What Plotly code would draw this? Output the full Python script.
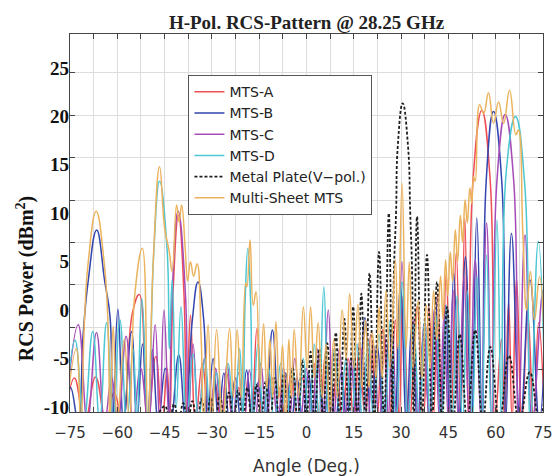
import plotly.graph_objects as go

# ---- angle (deg) / RCS (dBm^2) samples: lobe peaks, flanks and nulls ----
mts_a_deg = [-76.5, -73.6, -70.3, -66.9, -63.6, -61.0, -58.4, -55.2, -53.0, -50.4, -47.8, -45.8, -44.2, -43.4,
             -42.3, -40.6, -38.9, -38.0, -36.8, -35.2, -33.0, -31.0, -29.0, -27.2, -25.3, -23.4, -21.5, -19.8,
             -18.6, -17.4, -15.7, -13.9, -12.0, -10.2, -8.4, -6.6, -4.8, -3.0, -1.2, 0.6, 2.4, 4.2, 6.0, 7.8,
             9.6, 11.4, 13.2, 15.0, 16.8, 18.6, 20.4, 22.3, 24.2, 26.2, 28.2, 29.4, 30.6, 32.6, 35.1, 37.0,
             38.8, 40.2, 41.6, 42.9, 44.3, 45.8, 47.5, 48.9, 50.2, 51.4, 52.8, 55.6, 58.25, 59.8, 61.8, 62.8,
             64.1, 65.2, 66.6, 68.3, 70.2, 72.0, 73.6, 75.5]
mts_a_db = [-11.5, -7.0, -11.5, -6.9, -11.5, -8.5, -11.5, -0.3, 1.6, -11.5, -4.8, -11.5, -6.0, -11.5,
            2.0, 9.8, 2.0, -11.5, -0.5, -11.5, -5.5, -11.5, -7.5, -11.5, -6.5, -11.5, -8.0, -11.5,
            -7.0, -11.5, -1.9, -11.5, -7.0, -11.5, -8.0, -11.5, -6.0, -11.5, -7.0, -11.5, -5.5, -11.5, -4.5, -11.5,
            -6.5, -11.5, -5.0, -11.5, -3.5, -11.5, -2.5, -11.5, -2.0, -11.5, -1.0, -11.5, 1.4, -11.5, 0.35, -11.5,
            0.35, -11.5, 1.7, -11.5, 3.8, -11.5, 6.0, -11.5, 9.5, -11.5, 13.4, 20.6, 13.4, -11.5, -3.0, -11.5,
            0.9, -11.5, 3.3, -11.5, -0.5, -11.5, -1.3, -11.5]

mts_b_deg = [-76.5, -74.8, -72.4, -70.8, -69.2, -66.55, -64.0, -62.3, -61.5, -59.8, -58.0, -55.5, -53.8, -52.0,
             -50.4, -48.9, -47.0, -44.8, -43.0, -40.5, -38.4, -36.2, -34.4, -32.6, -31.4, -29.6, -27.9, -26.2,
             -24.4, -22.6, -20.8, -19.0, -17.2, -15.4, -13.2, -10.8, -8.6, -6.6, -4.8, -3.0, -1.2, 0.6, 2.3,
             4.0, 5.6, 7.4, 9.2, 11.0, 12.8, 14.6, 16.4, 18.5, 20.5, 22.4, 24.4, 26.3, 28.0, 29.8, 31.7, 33.4,
             35.2, 37.2, 39.0, 40.9, 42.6, 44.2, 45.3, 46.7, 48.5, 50.4, 52.3, 54.0, 55.7, 57.0, 59.3, 61.9,
             63.2, 65.0, 67.8, 70.9, 73.8, 75.8]
mts_b_db = [-11.5, -8.0, -11.5, -2.4, 3.1, 8.27, 3.0, -0.7, -11.5, 0.1, -11.5, -2.2, -11.5, -3.5,
            -11.5, -4.1, -11.5, -6.0, -11.5, -4.6, -11.5, -1.0, 2.9, -1.0, -11.5, -5.0, -11.5, -6.5,
            -11.5, -7.0, -11.5, -6.2, -11.5, -7.5, -11.5, -2.05, -11.5, -6.5, -11.5, -7.0, -11.5, -6.5, -11.5,
            -4.5, -11.5, -5.5, -11.5, -6.5, -11.5, -5.0, -11.5, -0.8, -11.5, -3.5, -11.5, -2.0, -11.5, 2.4, -11.5, -1.5,
            -11.5, -2.5, -11.5, 1.05, -11.5, 0.5, -11.5, 3.8, -11.5, 5.5, -11.5, 9.5, -11.5, 13.4, 20.5, 13.4,
            -11.5, 7.9, -11.5, 3.1, -11.5, -2.0]

mts_c_deg = [-76.5, -72.4, -69.5, -66.6, -64.0, -61.8, -59.8, -57.2, -55.0, -52.6, -50.2, -48.0, -46.6, -45.2,
             -43.6, -42.6, -40.7, -38.4, -37.5, -36.0, -34.2, -32.4, -30.6, -28.8, -27.0, -25.2, -23.4, -21.6,
             -19.8, -18.1, -16.3, -14.5, -12.7, -10.9, -9.1, -7.3, -5.5, -3.7, -1.9, -0.1, 1.7, 3.4, 5.1, 6.9,
             8.6, 10.4, 12.2, 14.0, 15.8, 17.6, 19.4, 21.2, 23.0, 24.8, 25.9, 27.2, 28.6, 30.3, 32.1, 33.8,
             35.5, 37.2, 38.9, 40.5, 42.2, 43.6, 45.0, 46.5, 48.2, 49.9, 51.6, 53.5, 55.3, 57.1, 58.8, 60.4,
             63.0, 65.7, 67.2, 69.3, 71.6, 75.0, 76.0]
mts_c_db = [-11.5, -1.5, -11.5, -2.3, -11.5, -7.0, -11.5, -2.7, -11.5, -6.0, -11.5, -1.5, -11.5, 0.0,
            -11.5, 1.7, 10.2, 1.7, -11.5, -3.5, -11.5, -5.0, -11.5, -6.0, -11.5, -5.5, -11.5, -6.5,
            -11.5, -6.2, -11.5, -5.5, -11.5, -7.0, -11.5, -6.0, -11.5, -5.0, -11.5, -6.0, -11.5, -4.0, -11.5, 0.0,
            -11.5, -4.0, -11.5, -5.0, -11.5, -4.0, -11.5, -3.5, -11.5, -2.5, -11.5, -2.0, -11.5, 5.0, -11.5, -1.0,
            -11.5, -1.5, -11.5, 0.0, -11.5, -0.5, -11.5, 2.0, -11.5, 3.45, -11.5, 5.2, -11.5, 9.0, -11.5, 13.4,
            20.2, 13.4, -11.5, 7.75, -11.5, 2.0, -1.0]

mts_d_deg = [-76.5, -73.4, -70.6, -67.8, -65.6, -63.4, -61.3, -59.2, -57.0, -55.0, -53.8, -52.2, -50.3, -48.4,
             -46.6, -44.2, -43.5, -42.6, -41.3, -39.8, -38.0, -36.0, -34.2, -32.2, -30.4, -28.5, -26.6, -24.8,
             -23.0, -21.2, -20.2, -19.5, -18.6, -17.7, -17.0, -15.4, -13.6, -12.0, -10.2, -8.2, -6.4, -4.5,
             -2.7, -1.0, 0.8, 2.5, 3.9, 5.5, 7.1, 8.9, 10.7, 12.5, 14.3, 16.0, 17.8, 19.5, 21.3, 23.0, 24.8,
             26.6, 28.4, 30.3, 32.2, 34.0, 35.8, 37.5, 39.3, 41.0, 42.8, 44.5, 46.2, 47.8, 49.5, 51.0, 52.6,
             54.05, 55.5, 57.1, 58.6, 60.4, 61.8, 63.4, 66.3, 69.2, 71.0, 73.5, 75.8]
mts_d_db = [-11.5, -3.1, -11.5, -2.2, -11.5, -1.3, -11.5, -1.0, -11.5, -4.0, -11.5, 1.2, -11.5, 6.2,
            13.3, 6.2, -4.0, 3.1, -10, 0.35, -11.5, -4.5, -11.5, -5.0, -11.5, -6.5, -11.5, -5.5,
            -11.5, -4.0, -11.5, 0.5, 6.4, 0.5, -11.5, -3.5, -11.5, -6.0, -11.5, -5.5, -11.5, -6.0,
            -11.5, -5.0, -11.5, -3.5, -11.5, 2.4, -11.5, -4.0, -11.5, -5.0, -11.5, -3.5, -11.5, -3.0, -11.5, -2.5, -11.5,
            -1.0, -11.5, 2.9, -11.5, -1.5, -11.5, -1.0, -11.5, -0.5, -11.5, 0.5, -11.5, 1.5, -11.5, 2.0, -11.5,
            3.45, -11.5, 5.7, -11.5, 9.3, -11.5, 14.5, 20.0, 13.0, -11.5, 7.1, -11.5]

plate_deg = [-48.0, -44.9, -43.4, -42.0, -40.5, -39.1, -37.6, -36.2, -34.7, -33.3, -31.8, -30.4, -28.9, -27.5,
             -26.0, -24.6, -23.1, -21.7, -20.2, -18.8, -17.3, -15.9, -14.4, -13.0, -11.5, -10.1, -8.6, -7.2,
             -5.7, -4.3, -2.8, -1.4, 0.0, 1.3, 2.6, 4.0, 5.3, 6.6, 8.0, 9.3, 10.6, 12.0, 13.4, 14.8, 16.1,
             17.4, 18.7, 20.0, 21.5, 23.0, 24.6, 26.1, 27.2, 27.7, 28.4, 28.94, 30.5, 32.2, 32.9, 33.5, 34.0,
             35.05, 36.6, 38.2, 39.8, 41.4, 43.0, 44.6, 46.5, 48.6, 51.0, 53.5, 55.9, 58.3, 61.2, 64.2, 67.5,
             70.8, 73.8, 75.8]
plate_db = [-11.5, -9.9, -11.5, -9.7, -11.5, -9.6, -11.5, -9.4, -11.5, -9.2, -11.5, -9.0, -11.5, -8.8,
            -11.5, -8.5, -11.5, -8.3, -11.5, -8.0, -11.5, -7.7, -11.5, -7.4, -11.5, -7.0, -11.5, -6.6,
            -11.5, -6.0, -11.5, -5.2, -11.5, -4.3, -11.5, -4.0, -11.5, -3.4, -11.5, -2.3, -11.5, -0.9, -11.5, 0.35, -11.5,
            1.7, -11.5, 3.8, -11.5, 6.0, -11.5, 10.0, -11.5, 3.6, 10.0, 16.9, 21.35, 16.9, 10.0, 3.6, -11.5,
            9.65, -11.5, 5.7, -11.5, 2.9, -11.5, 0.3, -11.5, -2.5, -11.5, -2.05, -11.5, -3.8, -11.5, -4.7, -11.5,
            -6.4, -11.5, -8.0]

multi_deg = [-76.5, -73.0, -71.6, -70.4, -69.2, -66.7, -64.2, -63.0, -62.3, -61.3, -60.0, -57.8, -56.2, -54.4,
             -52.05, -50.3, -48.6, -46.6, -45.0, -43.6, -42.6, -41.2, -40.4, -39.6, -38.4, -37.7, -36.8,
             -35.8, -34.7, -33.4, -32.6, -31.2, -30.0, -28.5, -26.6, -24.4, -23.2, -22.0, -20.7, -19.3, -18.9,
             -17.9, -16.9, -16.0, -14.8, -13.6, -12.6, -11.6, -10.7, -9.7, -8.6, -7.6, -6.6, -5.6, -4.8, -3.9,
             -2.5, -1.0, 0.2, 1.3, 2.5, 3.7, 5.0, 6.2, 7.4, 8.6, 9.8, 11.3, 12.6, 13.7, 15.0, 16.3, 17.5,
             18.7, 19.8, 20.9, 22.0, 23.0, 24.0, 25.2, 26.5, 28.2, 29.0, 30.3, 31.6, 32.6, 33.8, 35.4, 36.6,
             38.0, 39.2, 40.3, 41.3, 42.5, 43.3, 44.1, 44.8, 45.6, 46.3, 47.2, 47.9, 48.8, 49.5, 50.3, 51.0,
             51.8, 52.4, 53.0, 53.5, 54.9, 56.2, 57.7, 59.3, 60.9, 62.5, 64.4, 66.4, 67.2, 68.6, 69.8, 71.0,
             72.3, 73.9, 75.5]
multi_db = [-11.5, -4.0, -11.5, -1.0, 5.0, 10.2, 5.0, -1.0, -11.5, -1.7, -11.5, -3.0, -11.5, 1.8,
            6.4, -11.5, 5.0, 14.8, 8.5, 6.2, 4.0, 10.85, 9.1, 10.85, 6.0, 3.0, 5.0,
            3.5, 4.8, -3.0, -11.5, -1.5, -11.5, -2.0, -11.5, -1.9, -9, -2.0, -9, 2.8, 2.4,
            7.25, 0.5, 1.9, -8, -1.4, -8, -3.0, -9, -1.2, -9, -3.6, -11.5, -3.0, -9, -2.0,
            -9, 0.35, -6, 0.35, -7, -1.3, -9, -3.5, -11.5, -3.0, -9, 0.0, -5, 1.7, -6, 0.6, -8,
            -1.0, -8, -2.3, -7, 0.35, -7, 2.0, -6, 5.2, -4, 13.1, -4, 5.0, -6, 1.0, -7,
            0.5, -6, 2.0, -3, 3.5, -1.0, 5.2, 1.5, 6.0, 3.0, 8.3, 5.0, 9.8, 7.0, 11.4, 9.0,
            12.6, 11.0, 13.8, 13.3, 21.2, 20.3, 22.45, 19.3, 21.5, 19.3, 22.7, 18.1, 18.6, 8.0, 0.0, 4.0,
            -1.0, 3.45, -4.0]

# ---- axis scales and tick labels ----
X_RANGE = [-75, 75]
x_label_step = 15
x_grid_step = 7.5
y_label_vals = [-10, -5, 0, 5, 10, 15, 20, 25]
y_label_text = ["-10", "-5", "0", "5", "10", "15", "20", "25"]

Y_RANGE = [-10.52, 28.51]
GRID_STEP = 4.3775
y_grid_vals = [Y_RANGE[0] + GRID_STEP * k for k in range(9)]

series = [
    ("MTS-A", mts_a_deg, mts_a_db, "#F04E55", "solid", 1.5, "y"),
    ("MTS-B", mts_b_deg, mts_b_db, "#3345AE", "solid", 1.5, "y"),
    ("MTS-C", mts_c_deg, mts_c_db, "#A64CB8", "solid", 1.5, "y"),
    ("MTS-D", mts_d_deg, mts_d_db, "#4CC6D3", "solid", 1.5, "y"),
    ("Metal Plate(V\u2212pol.)", plate_deg, plate_db, "#1E1E1E", "3px,2px", 1.8, "y"),
    # same range as y; this axis carries the labelled dB scale
    ("Multi-Sheet MTS", multi_deg, multi_db, "#EBB35E", "solid", 1.5, "y2"),
]

fig = go.Figure()
for name, xs, ys, color, dash, w, yax in series:
    fig.add_trace(go.Scatter(
        x=xs, y=ys, name=name, mode="lines", yaxis=yax,
        line=dict(color=color, width=w, dash=dash, shape="spline", smoothing=1.3),
        hoverinfo="skip",
    ))

axis_line = "#454545"
fig.update_layout(
    width=553, height=476, autosize=False,
    margin=dict(l=70, r=10, t=34, b=64),
    paper_bgcolor="white", plot_bgcolor="white",
    title=dict(text="<b>H-Pol. RCS-Pattern @ 28.25 GHz</b>",
               font=dict(family="Liberation Serif", size=19, color="#222"),
               x=0.5, xref="paper", xanchor="center",
               y=1 - 22 / 476, yref="container", yanchor="middle"),
    xaxis=dict(range=X_RANGE, tick0=X_RANGE[0], dtick=x_label_step,
               showgrid=True, gridcolor="#DDDDDD", gridwidth=1, zeroline=False,
               ticks="inside", ticklen=5, tickcolor=axis_line,
               minor=dict(dtick=x_grid_step, tick0=X_RANGE[0], showgrid=True, gridcolor="#DDDDDD",
                          ticks="inside", ticklen=5, tickcolor=axis_line),
               showline=True, linecolor=axis_line, linewidth=1.2, mirror="ticks",
               tickfont=dict(family="DejaVu Sans", size=15, color="#333"),
               ticklabelstandoff=7, ticklabeloverflow="allow", automargin=False),
    yaxis=dict(range=Y_RANGE, tickmode="array", tickvals=y_grid_vals, showticklabels=False,
               showgrid=True, gridcolor="#DDDDDD", gridwidth=1, zeroline=False,
               ticks="inside", ticklen=5, tickcolor=axis_line,
               showline=True, linecolor=axis_line, linewidth=1.2, mirror="ticks", automargin=False),
    yaxis2=dict(range=Y_RANGE, overlaying="y", side="left", tickmode="array",
                tickvals=y_label_vals, ticktext=y_label_text, showgrid=False, zeroline=False,
                ticks="", showline=False, automargin=False,
                tickfont=dict(family="Liberation Serif", size=19, color="#111", weight="bold")),
    legend=dict(x=0.25, y=0.8915, xanchor="left", yanchor="top",
                bgcolor="white", bordercolor="#555", borderwidth=1.2,
                font=dict(family="DejaVu Sans", size=14, color="#222"),
                tracegroupgap=0, itemwidth=30),
    showlegend=True,
    annotations=[
        dict(text="<b>RCS Power (dBm<sup>2</sup>)</b>", textangle=-90, showarrow=False,
             xref="paper", yref="paper", x=-0.095, y=0.354, xanchor="center", yanchor="middle",
             font=dict(family="Liberation Serif", size=20, color="#111")),
        dict(text="Angle (Deg.)", showarrow=False, xref="paper", yref="paper",
             x=0.5, y=-0.143, xanchor="center", yanchor="middle",
             font=dict(family="DejaVu Sans", size=17, color="#333")),
    ],
)

fig.write_html("out.html")
